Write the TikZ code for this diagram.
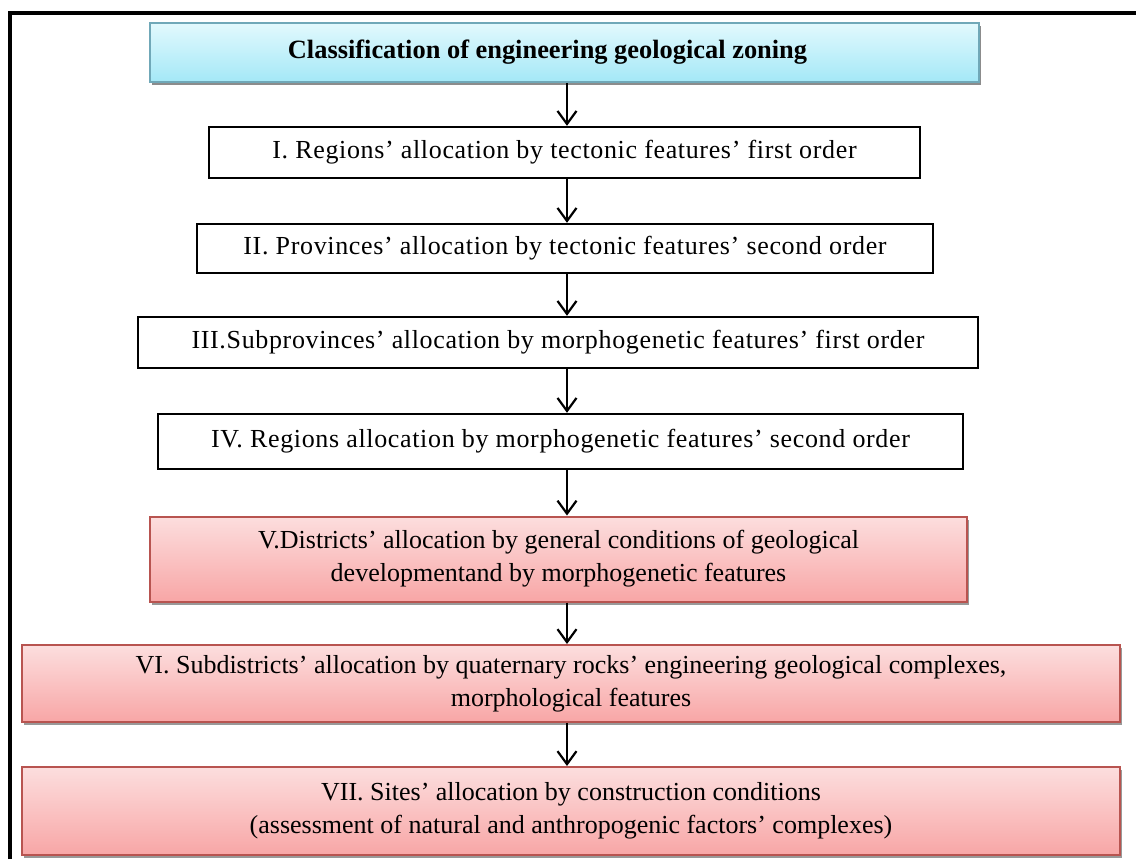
\documentclass[tikz,border=0pt]{standalone}
\usepackage{fontspec}
\setmainfont{Liberation Serif}
\newfontfamily\spacedfont[LetterSpace=2.5]{Liberation Serif}
\usetikzlibrary{arrows.meta,shadows}

\definecolor{headtop}{RGB}{226,249,253}
\definecolor{headbot}{RGB}{164,232,247}
\definecolor{headline}{RGB}{112,168,184}
\definecolor{redtop}{RGB}{252,222,222}
\definecolor{redbot}{RGB}{248,166,166}
\definecolor{redline}{RGB}{184,84,80}

\tikzset{
  plainbox/.style={draw=black, line width=1.2pt, fill=white, inner sep=0pt,
    font=\spacedfont\fontsize{13}{16}\selectfont},
  headbox/.style={draw=headline, line width=1pt, top color=headtop, bottom color=headbot,
    inner sep=0pt, font=\bfseries\fontsize{13.2}{16}\selectfont,
    drop shadow={shadow xshift=1pt, shadow yshift=-1.5pt, fill=black!45, opacity=1}},
  redbox/.style={draw=redline, line width=1pt, top color=redtop, bottom color=redbot,
    inner sep=0pt, align=center, font=\fontsize{13}{16.5}\selectfont,
    drop shadow={shadow xshift=1pt, shadow yshift=-1.5pt, fill=black!40, opacity=1}},
  flow/.style={line width=1pt, -{Straight Barb[length=6.5pt, width=9.5pt, line width=1.1pt]}}
}

\begin{document}
\begin{tikzpicture}[x=0.5pt, y=-0.5pt]
    \useasboundingbox (0,0) rectangle (1136,859);
    % frame
    \draw[line width=1.6pt] (10,859) -- (10,13) -- (1136,13);

    \node[headbox, minimum width=414.5pt, minimum height=29.5pt] (title) at (564.5,52.5)
        {Classification of engineering geological zoning\hspace*{17pt}};

    \node[plainbox, minimum width=355.5pt, minimum height=25.5pt] (r1) at (564.5,152.5)
        {I. Regions’ allocation by tectonic features’ first order};
    \node[plainbox, minimum width=368pt, minimum height=24.5pt] (r2) at (565,248.5)
        {II. Provinces’ allocation by tectonic features’ second order};
    \node[plainbox, minimum width=420pt, minimum height=25.5pt] (r3) at (558,342.5)
        {III.Subprovinces’ allocation by morphogenetic features’ first order};
    \node[plainbox, minimum width=402.5pt, minimum height=27.5pt] (r4) at (560.5,441.5)
        {IV. Regions allocation by morphogenetic features’ second order};

    \node[redbox, minimum width=408.5pt, minimum height=42.5pt] (r5) at (558.5,559)
        {V.Districts’ allocation by general conditions of geological\\developmentand by morphogenetic features};
    \node[redbox, minimum width=549pt, minimum height=38.5pt] (r6) at (571,683.5)
        {VI. Subdistricts’ allocation by quaternary rocks’ engineering geological complexes,\\morphological features};
    \node[redbox, minimum width=549pt, minimum height=44pt] (r7) at (571,811)
        {VII. Sites’ allocation by construction conditions\\(assessment of natural and anthropogenic factors’ complexes)};

    % arrows
    \coordinate (ax) at (567,0);
    \foreach \a/\b in {title/r1, r1/r2, r2/r3, r3/r4, r4/r5, r5/r6, r6/r7}
        \draw[flow] (\a.south -| ax) -- (\b.north -| ax);
\end{tikzpicture}
\end{document}
